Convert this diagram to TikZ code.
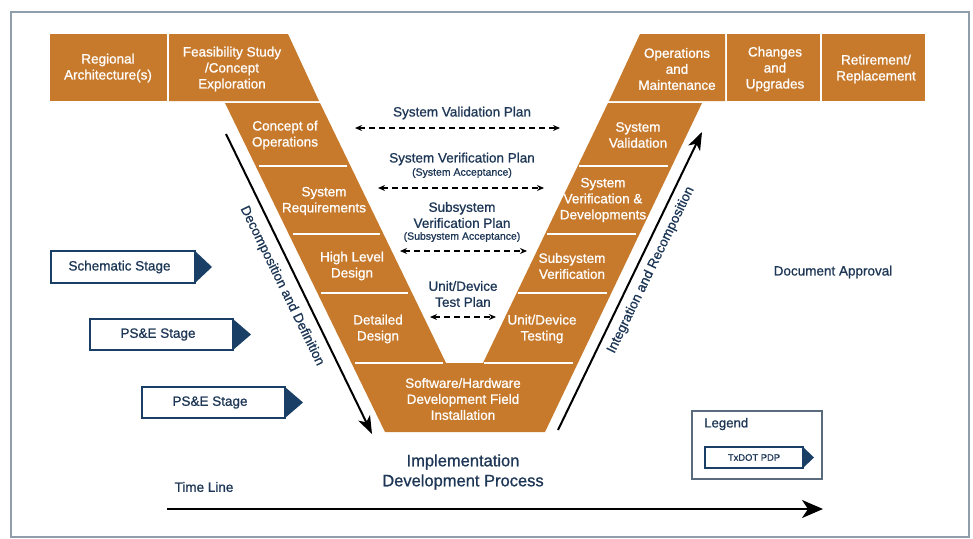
\documentclass[tikz,border=0pt]{standalone}
\usepackage{fontspec}
\setmainfont{Liberation Sans}[FakeBold=0.9]
\usetikzlibrary{arrows.meta,calc}
\definecolor{vorange}{HTML}{C77A2C}
\definecolor{vnavy}{HTML}{1A3F66}
\definecolor{vtext}{HTML}{1E3756}
\definecolor{vframe}{HTML}{909DAA}
\definecolor{vlegend}{HTML}{5A6B7E}
\begin{document}
\begin{tikzpicture}[x=1pt,y=-1pt,
  band/.style={fill=vorange},
  bandtext/.style={text=white,align=center,font=\fontsize{13.5}{16}\selectfont,inner sep=0},
  plantext/.style={text=vtext,align=center,font=\fontsize{13.5}{16}\selectfont,inner sep=0},
  smalltext/.style={text=vtext,font=\fontsize{10.5}{12}\selectfont,inner sep=0},
  sepline/.style={white,line width=2pt},
  dasharrow/.style={black,line width=1.5pt,dash pattern=on 6pt off 4pt,{Stealth[length=7pt,width=6pt]}-{Stealth[length=7pt,width=6pt]}},
  bigarrow/.style={black,line width=2pt,-{Stealth[length=18pt,width=13pt,inset=5pt]}},
  stagebox/.style={draw=vnavy,line width=2.5pt,fill=white,inner sep=0,outer sep=0,text=vtext,font=\fontsize{13.5}{16}\selectfont},
  tri/.style={fill=vnavy},
]
\useasboundingbox (0,0) rectangle (973,538);
\fill[white] (0,0) rectangle (973,538);
\draw[vframe,line width=2.5pt] (11,12) rectangle (969,537);

% top boxes
\fill[band] (50,34) rectangle (167,101);
\fill[band] (169,34) -- (288,34) -- (319,101) -- (169,101) -- cycle;
\fill[band] (640,34) -- (725,34) -- (725,101) -- (609,101) -- cycle;
\fill[band] (727,34) rectangle (820,101);
\fill[band] (822,34) rectangle (925,101);
% V shape
\fill[band] (225,103) -- (320,103) -- (446,363) -- (483,363) -- (608,103) -- (702,103) -- (545,432) -- (385,432) -- cycle;
% separators
\draw[sepline] (259,166) -- (347,166);
\draw[sepline] (293,234) -- (380,234);
\draw[sepline] (321,293) -- (408,293);
\draw[sepline] (355,363) -- (443,363);
\draw[sepline] (579,166) -- (668,166);
\draw[sepline] (547,234) -- (636,234);
\draw[sepline] (518,293) -- (607,293);
\draw[sepline] (484,363) -- (573,363);

% band texts
\node[bandtext] (regional) at (108,68) {Regional\\Architecture(s)};
\node[bandtext] (feas) at (232,69) {Feasibility Study\\/Concept\\Exploration};
\node[bandtext] (conops) at (285,135) {Concept of\\Operations};
\node[bandtext] (sysreq) at (324,201) {System\\Requirements};
\node[bandtext] (hld) at (352,266) {High Level\\Design};
\node[bandtext] (dd) at (378,329) {Detailed\\Design};
\node[bandtext] (swhw) at (463,399) {Software/Hardware\\Development Field\\Installation};
\node[bandtext] (unit) at (542,329) {Unit/Device\\Testing};
\node[bandtext] (subver) at (572,266) {Subsystem\\Verification};
\node[bandtext] (sysver) at (603,200) {System\\Verification \&\\Developments};
\node[bandtext] (sysval) at (638,135) {System\\Validation};
\node[bandtext] (ops) at (677,69) {Operations\\and\\Maintenance};
\node[bandtext] (chg) at (775,69) {Changes\\and\\Upgrades};
\node[bandtext] (ret) at (876,69) {Retirement/\\Replacement};

% plans
\node[plantext] (valplan) at (462,113) {System Validation Plan};
\node[plantext] (verplan) at (462,159) {System Verification Plan};
\node[smalltext] (veracc) at (462,173) {(System Acceptance)};
\node[plantext] (subplan) at (462,215) {Subsystem\\Verification Plan};
\node[smalltext] (subacc) at (462,237) {(Subsystem Acceptance)};
\node[plantext] (unitplan) at (463,294) {Unit/Device\\Test Plan};

\coordinate (va1) at (355,128); \coordinate (va2) at (560,128);
\coordinate (ve1) at (378,188); \coordinate (ve2) at (544,188);
\coordinate (su1) at (400,251); \coordinate (su2) at (527,251);
\coordinate (un1) at (430,317); \coordinate (un2) at (496,317);
\draw[dasharrow] (va1) -- (va2);
\draw[dasharrow] (ve1) -- (ve2);
\draw[dasharrow] (su1) -- (su2);
\draw[dasharrow] (un1) -- (un2);

% big arrows
\coordinate (dec1) at (226,134); \coordinate (dec2) at (372,434);
\coordinate (int1) at (558,430); \coordinate (int2) at (702,132);
\draw[bigarrow] (dec1) -- (dec2);
\draw[bigarrow] (int1) -- (int2);
\node[plantext,rotate=-64] (declab) at (282,286) {Decomposition and Definition};
\node[plantext,rotate=64.2] (intlab) at (651,270) {Integration and Recomposition};

% stage arrows
\node[stagebox,minimum width=144pt,minimum height=32pt] (s1) at (123,267) {\hspace*{-7pt}Schematic Stage};
\fill[tri] (s1.north east) -- ($(s1.east)+(17,0)$) -- (s1.south east) -- cycle;
\node[stagebox,minimum width=143pt,minimum height=31pt] (s2) at (161.5,334.5) {\hspace*{-7pt}PS\&E Stage};
\fill[tri] (s2.north east) -- ($(s2.east)+(18,0)$) -- (s2.south east) -- cycle;
\node[stagebox,minimum width=143pt,minimum height=31pt] (s3) at (213.5,402.5) {\hspace*{-7pt}PS\&E Stage};
\fill[tri] (s3.north east) -- ($(s3.east)+(18,0)$) -- (s3.south east) -- cycle;

% other texts
\node[plantext] (docapp) at (833,272) {Document Approval};
\node[text=vtext,align=center,inner sep=0,font=\fontsize{16.5}{20}\selectfont] (impl) at (463,472) {Implementation\\Development Process};
\node[plantext] (timelab) at (204,487) {Time Line};
\coordinate (tl1) at (167,509); \coordinate (tl2) at (823,509);
\draw[black,line width=2pt,-{Stealth[length=21pt,width=18pt,inset=6pt]}] (tl1) -- (tl2);

% legend
\node[draw=vlegend,line width=1.2pt,minimum width=130pt,minimum height=68pt,inner sep=0] (legendbox) at (757,445) {};
\node[plantext,anchor=west,font=\fontsize{13.2}{16}\selectfont] (legendlab) at (704,424) {Legend};
\node[stagebox,line width=1.8pt,minimum width=98pt,minimum height=21pt,font=\fontsize{9.4}{11}\selectfont] (pdp) at (754,457.5) {TxDOT PDP};
\fill[tri] (pdp.north east) -- ($(pdp.east)+(11,0)$) -- (pdp.south east) -- cycle;
\end{tikzpicture}
\end{document}
